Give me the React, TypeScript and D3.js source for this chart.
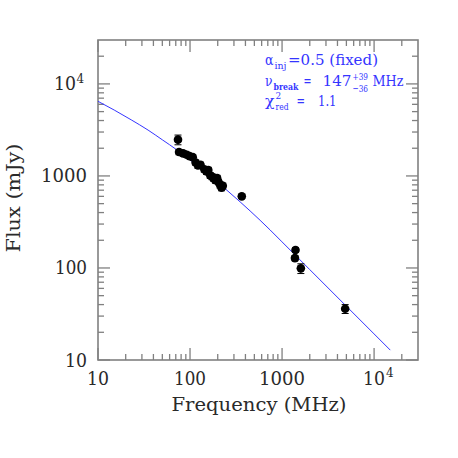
import React from "react";
import * as d3 from "d3";

// ---- data ----
const obsFreq = [74, 76, 84, 92, 99, 107, 115, 122, 130, 143, 151, 158, 166, 174, 181, 189, 197, 204, 212, 220, 227, 365, 1380, 1400, 1600, 4850];
const obsFlux = [2480, 1820, 1760, 1700, 1640, 1600, 1400, 1300, 1320, 1180, 1120, 1160, 1010, 980, 940, 900, 950, 860, 800, 745, 780, 600, 128, 157, 99, 36];
const obsErr = [300, 120, 110, 100, 100, 100, 90, 90, 90, 80, 80, 80, 70, 70, 65, 65, 65, 60, 60, 55, 55, 30, 8, 9, 12, 4];

const fitFreq = [10, 15, 23, 35, 50, 72, 100, 150, 229, 350, 577, 741, 1000, 2000, 5000, 10000, 15000];
const fitFlux = [6470, 5200, 4065, 3150, 2470, 1918, 1494, 1080, 759, 523, 330, 259, 192, 96, 38.4, 19.2, 12.8];

const majorTicks = [10, 100, 1000, 10000];
const xTickLabels = ["10", "100", "1000", "10"];
const yTickLabels = ["10", "100", "1000", "10"];
const domain: [number, number] = [10, 30000];

const W = 458;
const H = 458;
const L = 98;
const T = 40;
const S = 320;

const FRAME = "#808080";
const TXT = "#2a2a2a";
const BLUE = "#3535ff";
const FONT = "'DejaVu Serif', serif";

function minorTicks(): number[] {
  const out: number[] = [];
  for (let p = 10; p < 30000; p *= 10) {
    for (let k = 2; k <= 9; k++) {
      const v = k * p;
      if (v < 30000) out.push(v);
    }
  }
  return out;
}

const labelLen: Record<string, number> = { "10": 22, "100": 32, "1000": 46 };

export default function App() {
  const x = d3.scaleLog().domain(domain).range([L, L + S]);
  const y = d3.scaleLog().domain(domain).range([T + S, T]);
  const minors = minorTicks();
  const line = d3
    .line<number>()
    .x((_, i) => x(fitFreq[i]))
    .y((d) => y(d))
    .curve(d3.curveMonotoneX);
  const MAJ = 12;
  const MIN = 6;
  const bottom = T + S;
  const right = L + S;
  const LA = "spacingAndGlyphs";

  return (
    <svg width={W} height={H} style={{ position: "absolute", left: 0, top: 0 }} fontFamily={FONT}>
      <rect x={0} y={0} width={W} height={H} fill="#fff" />
      {/* ticks */}
      <g stroke={FRAME} strokeWidth={1.3}>
        {majorTicks.map((v) => (
          <g key={"M" + v}>
            <line x1={x(v)} x2={x(v)} y1={bottom} y2={bottom - MAJ} />
            <line x1={x(v)} x2={x(v)} y1={T} y2={T + MAJ} />
            <line y1={y(v)} y2={y(v)} x1={L} x2={L + MAJ} />
            <line y1={y(v)} y2={y(v)} x1={right} x2={right - MAJ} />
          </g>
        ))}
        {minors.map((v) => (
          <g key={"m" + v}>
            <line x1={x(v)} x2={x(v)} y1={bottom} y2={bottom - MIN} />
            <line x1={x(v)} x2={x(v)} y1={T} y2={T + MIN} />
            <line y1={y(v)} y2={y(v)} x1={L} x2={L + MIN} />
            <line y1={y(v)} y2={y(v)} x1={right} x2={right - MIN} />
          </g>
        ))}
      </g>
      <rect x={L} y={T} width={S} height={S} fill="none" stroke={FRAME} strokeWidth={1.6} />

      {/* x tick labels */}
      {majorTicks.map((v, i) => (
        <g key={"xl" + v} fill={TXT} fontSize={18}>
          <text x={x(v)} y={385} textAnchor="middle" textLength={labelLen[xTickLabels[i]]} lengthAdjust={LA}>{xTickLabels[i]}</text>
          {v === 10000 && (
            <text x={x(v) + 12} y={377} fontSize={12}>4</text>
          )}
        </g>
      ))}
      {/* y tick labels */}
      {majorTicks.map((v, i) => (
        <g key={"yl" + v} fill={TXT} fontSize={18}>
          <text x={v === 10000 ? 76 : 87} y={y(v) + 6.5} textAnchor="end" textLength={labelLen[yTickLabels[i]]} lengthAdjust={LA}>{yTickLabels[i]}</text>
          {v === 10000 && (
            <text x={76.5} y={y(v) - 1} fontSize={12}>4</text>
          )}
        </g>
      ))}

      {/* axis titles */}
      <text x={259} y={411} textAnchor="middle" fontSize={18} fill={TXT} textLength={175} lengthAdjust={LA}>Frequency (MHz)</text>
      <text transform={`translate(20,198) rotate(-90)`} textAnchor="middle" fontSize={18} fill={TXT} textLength={109} lengthAdjust={LA}>Flux (mJy)</text>

      {/* fit curve */}
      <path d={line(fitFlux) || ""} fill="none" stroke={BLUE} strokeWidth={1} />

      {/* data */}
      <g stroke="#000" strokeWidth={1}>
        {obsFreq.map((f, i) => {
          const cx = x(f);
          const y1 = y(obsFlux[i] + obsErr[i]);
          const y2 = y(obsFlux[i] - obsErr[i]);
          return (
            <g key={"e" + i}>
              <line x1={cx} x2={cx} y1={y1} y2={y2} />
              <line x1={cx - 3.5} x2={cx + 3.5} y1={y1} y2={y1} />
              <line x1={cx - 3.5} x2={cx + 3.5} y1={y2} y2={y2} />
            </g>
          );
        })}
      </g>
      <g fill="#000">
        {obsFreq.map((f, i) => (
          <circle key={"p" + i} cx={x(f)} cy={y(obsFlux[i])} r={4.3} />
        ))}
      </g>

      {/* annotations */}
      <g fill={BLUE} fontSize={15}>
        <text x={265} y={65} textLength={8.5} lengthAdjust={LA}>α</text>
        <text x={274.5} y={69} fontSize={10} textLength={12} lengthAdjust={LA}>inj</text>
        <text x={288} y={65} textLength={90} lengthAdjust={LA}>=0.5 (fixed)</text>

        <text x={265} y={86} textLength={7.5} lengthAdjust={LA}>ν</text>
        <text x={273.5} y={90} fontSize={10} fontWeight="bold" textLength={25} lengthAdjust={LA}>break</text>
        <text x={303.5} y={86} textLength={8} lengthAdjust={LA}>=</text>
        <text x={322.5} y={86} textLength={29} lengthAdjust={LA}>147</text>
        <text x={352.5} y={80} fontSize={10} textLength={15.5} lengthAdjust={LA}>+39</text>
        <text x={352.5} y={92} fontSize={10} textLength={15.5} lengthAdjust={LA}>−36</text>
        <text x={372.5} y={86} textLength={31} lengthAdjust={LA}>MHz</text>

        <text x={265} y={106} textLength={9.5} lengthAdjust={LA}>χ</text>
        <text x={275.5} y={99} fontSize={9}>2</text>
        <text x={275.5} y={110} fontSize={10} textLength={13} lengthAdjust={LA}>red</text>
        <text x={296.5} y={106} textLength={8.5} lengthAdjust={LA}>=</text>
        <text x={318} y={106} textLength={18.5} lengthAdjust={LA}>1.1</text>
      </g>
    </svg>
  );
}
